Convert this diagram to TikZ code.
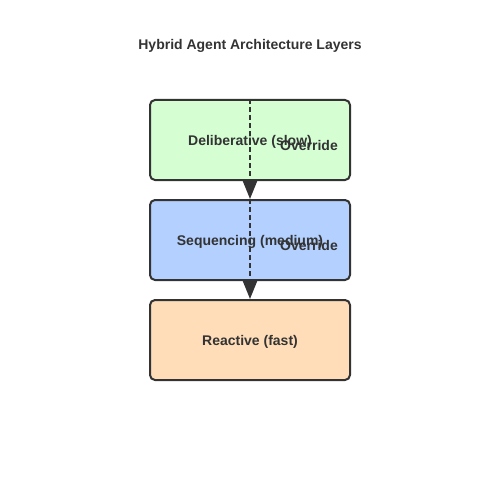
\documentclass[tikz,border=0pt]{standalone}
\usepackage{fontspec}
\setmainfont{Liberation Sans}
\usetikzlibrary{arrows.meta}

\definecolor{textgray}{HTML}{333333}
\definecolor{delibgreen}{HTML}{D5FFD3}
\definecolor{seqblue}{HTML}{B3D0FF}
\definecolor{reactorange}{HTML}{FFDDB8}

\begin{document}
\begin{tikzpicture}[x=1pt, y=-1pt,
    layer/.style={rectangle, draw=textgray, line width=2pt, rounded corners=5pt,
      minimum width=200pt, minimum height=80pt, text=textgray, text depth=0pt,
      font=\fontsize{14pt}{16pt}\selectfont\bfseries},
    override/.style={dashed, dash pattern=on 5pt off 3pt, line width=2pt, draw=textgray,
      -{Triangle[length=18pt, width=14pt]}},
    label/.style={text=textgray, font=\fontsize{14pt}{16pt}\selectfont\bfseries}]
    \useasboundingbox (0,0) rectangle (500,500);

    % タイトル
    \node[label] (title) at (250, 46) {Hybrid Agent Architecture Layers};

    % レイヤー
    \node[layer, fill=delibgreen] (delib) at (250, 140) {Deliberative (slow)};
    \node[layer, fill=seqblue] (seq) at (250, 240) {Sequencing (medium)};
    \node[layer, fill=reactorange] (react) at (250, 340) {Reactive (fast)};

    % オーバーライド
    \draw[override] (delib.north) -- (seq.north);
    \draw[override] (seq.north) -- (react.north);
    \node[label] (ov1) at (309, 145) {Override};
    \node[label] (ov2) at (309, 245) {Override};
  \end{tikzpicture}
\end{document}
